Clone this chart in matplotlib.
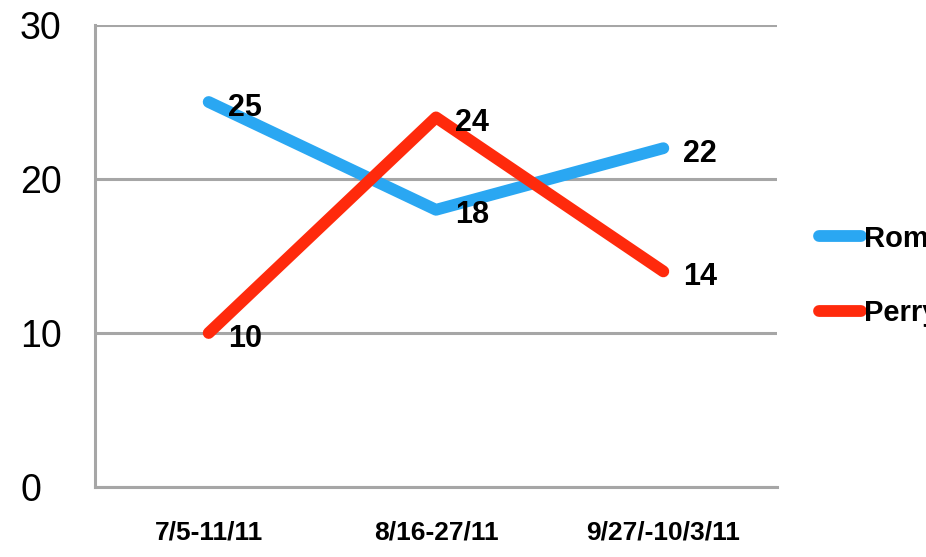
import matplotlib.pyplot as plt

# data
periods = ['7/5-11/11', '8/16-27/11', '9/27/-10/3/11']
romney = [25, 18, 22]
perry = [10, 24, 14]

plt.rcParams['font.family'] = ['Liberation Sans Narrow', 'Liberation Sans', 'DejaVu Sans']

fig = plt.figure(figsize=(9.26, 5.57), dpi=100, facecolor='w')
ax = fig.add_axes([95 / 926, 1 - 487 / 557, 682 / 926, 462 / 557])

x = range(len(periods))
ax.plot(x, romney, color='#2AA7F2', lw=8.5, solid_capstyle='round', label='Romney', zorder=3)
ax.plot(x, perry, color='#FF2A0C', lw=8.5, solid_capstyle='round', label='Perry', zorder=3)

for series in (romney, perry):
    for i, v in enumerate(series):
        ax.annotate(str(v), (i, v), xytext=(14, -4), textcoords='offset points',
                    ha='left', va='center', fontsize=22, fontweight='bold', zorder=4)

ax.set_xlim(-0.5, 2.5)
ax.set_ylim(0, 30)
ax.set_yticks([0, 10, 20, 30])
ax.set_xticks(list(x))
ax.set_xticklabels(periods, fontsize=19, fontweight='bold')
ax.tick_params(axis='y', labelsize=27, length=0, pad=54)
ax.tick_params(axis='x', length=0, pad=24)
for lbl in ax.get_yticklabels():
    lbl.set_horizontalalignment('left')
ax.grid(axis='y', color='#A6A6A6', lw=2.2)
ax.set_axisbelow(True)
for s in ('top', 'right'):
    ax.spines[s].set_visible(False)
for s in ('left', 'bottom'):
    ax.spines[s].set_color('#A6A6A6')
    ax.spines[s].set_linewidth(2.2)

leg = fig.legend(loc='upper left', bbox_to_anchor=(807 / 926, 1 - 213 / 557), frameon=False,
                 prop={'weight': 'bold', 'size': 21}, handlelength=1.45,
                 handletextpad=0.1, labelspacing=1.6, borderaxespad=0)

fig.savefig('out.png', dpi=100, facecolor='w')
